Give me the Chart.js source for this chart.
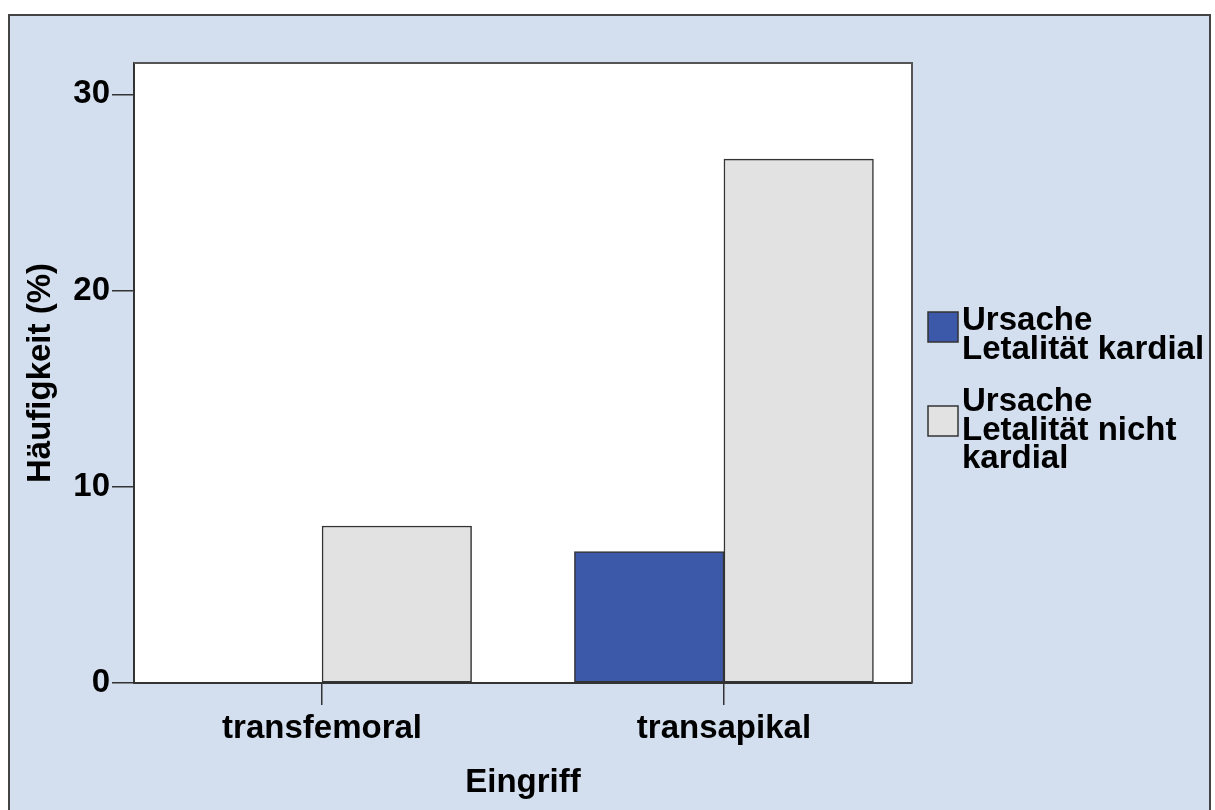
<!DOCTYPE html>
<html>
<head>
<meta charset="utf-8">
<script src="https://cdn.jsdelivr.net/npm/chart.js@4/dist/chart.umd.min.js"></script>
<style>
  html, body { margin: 0; padding: 0; background: #fff; }
  #wrap { width: 1215px; height: 810px; }
</style>
</head>
<body>
<div id="wrap"><canvas id="myChart" width="1215" height="810"></canvas></div>
<script>
const categories = ['transfemoral', 'transapikal'];
const seriesNames = [['Ursache', 'Letalität kardial'], ['Ursache', 'Letalität nicht', 'kardial']];
const kardial = [0, 6.7];
const nichtKardial = [8.0, 26.7];
const yTicks = [0, 10, 20, 30];

const FONT = "'Liberation Sans', Arial, sans-serif";
const BG = '#d3dfee';
const EDGE = '#333333';

const ctx = document.getElementById('myChart').getContext('2d');

// background frame + white plot area
const framePlugin = {
    id: 'frame',
    beforeDraw(chart) {
        const c = chart.ctx;
        const a = chart.chartArea;
        c.save();
        c.fillStyle = '#ffffff';
        c.fillRect(0, 0, chart.width, chart.height);
        c.fillStyle = BG;
        c.fillRect(8, 14, 1203, 800);
        c.strokeStyle = '#444';
        c.lineWidth = 2;
        c.strokeRect(9, 15, 1201, 800);
        c.fillStyle = '#ffffff';
        c.fillRect(a.left, a.top, a.right - a.left, a.bottom - a.top);
        c.restore();
    },
    afterDraw(chart) {
        const c = chart.ctx;
        const a = chart.chartArea;
        c.save();
        c.strokeStyle = '#555';
        c.lineWidth = 2;
        c.beginPath();
        c.moveTo(a.left, a.top);
        c.lineTo(a.right, a.top);
        c.lineTo(a.right, a.bottom);
        c.stroke();
        c.restore();
    }
};

// legend with wrapped labels on the right
const legendPlugin = {
    id: 'sideLegend',
    afterDraw(chart) {
        const c = chart.ctx;
        c.save();
        c.font = 'bold 33px ' + FONT;
        c.textBaseline = 'alphabetic';
        c.textAlign = 'left';
        let y = 330;
        chart.data.datasets.forEach((ds, i) => {
            const lines = seriesNames[i];
            const boxTop = y - 18 + (lines.length - 2) * 13;
            c.fillStyle = ds.backgroundColor;
            c.fillRect(928, boxTop, 30, 30);
            c.strokeStyle = EDGE;
            c.lineWidth = 1.5;
            c.strokeRect(928, boxTop, 30, 30);
            c.fillStyle = '#000';
            lines.forEach((t, k) => c.fillText(t, 962, y + k * 28.5));
            y += lines.length * 28.5 + 24;
        });
        c.restore();
    }
};

const tickFont = { family: FONT, size: 33, weight: 'bold' };

new Chart(ctx, {
    type: 'bar',
    data: {
        datasets: [{
            label: seriesNames[0].join(' '),
            data: kardial.map((v, i) => ({ x: i, y: v })),
            backgroundColor: '#3c58a9',
            borderColor: EDGE,
            borderWidth: 1.5,
            borderSkipped: false
        }, {
            label: seriesNames[1].join(' '),
            data: nichtKardial.map((v, i) => ({ x: i, y: v })),
            backgroundColor: '#e2e2e2',
            borderColor: EDGE,
            borderWidth: 1.5,
            borderSkipped: false
        }]
    },
    options: {
        responsive: false,
        animation: false,
        devicePixelRatio: 1,
        barThickness: 149.5,
        layout: { padding: { top: 63, right: 303, bottom: 0, left: 0 } },
        plugins: {
            legend: { display: false },
            tooltip: { enabled: false }
        },
        scales: {
            x: {
                type: 'linear',
                offset: false,
                min: -0.468,
                max: 1.468,
                afterBuildTicks: s => { s.ticks = categories.map((_, i) => ({ value: i })); },
                afterFit: s => { s.height = 127; },
                ticks: {
                    font: tickFont,
                    color: '#000',
                    padding: 4,
                    maxRotation: 0,
                    callback: v => categories[v] ?? ''
                },
                grid: { offset: false, drawOnChartArea: false, tickLength: 22, color: EDGE, lineWidth: 1.5 },
                border: { color: EDGE, width: 2 },
                title: { display: true, text: 'Eingriff', font: tickFont, color: '#000', padding: { top: 0, bottom: 7 } }
            },
            y: {
                min: 0,
                max: 31.6,
                afterBuildTicks: s => { s.ticks = yTicks.map(v => ({ value: v })); },
                afterFit: s => { s.width = 134; },
                ticks: { font: tickFont, color: '#000', padding: 2 },
                grid: { drawOnChartArea: false, tickLength: 22, color: EDGE, lineWidth: 1.5 },
                border: { color: EDGE, width: 2 },
                title: { display: true, text: 'Häufigkeit (%)', font: tickFont, color: '#000', padding: { top: 21, bottom: 0 } }
            }
        }
    },
    plugins: [framePlugin, legendPlugin]
});
</script>
</body>
</html>
